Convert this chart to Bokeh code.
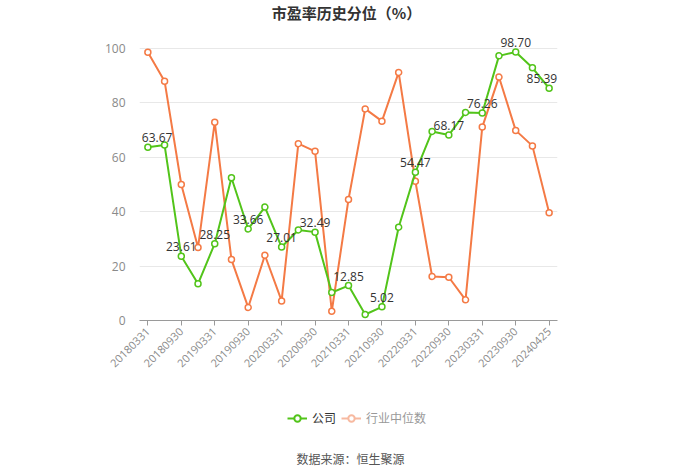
import math
from bokeh.plotting import figure
from bokeh.layouts import column
from bokeh.models import (Range1d, FixedTicker, ColumnDataSource, Label, Legend, LegendItem)
from bokeh.core.properties import value
from bokeh.embed import file_html
from bokeh.resources import INLINE

dates = ["20180331", "20180630", "20180930", "20181231", "20190331", "20190630",
         "20190930", "20191231", "20200331", "20200630", "20200930", "20201231",
         "20210331", "20210630", "20210930", "20211231", "20220331", "20220630",
         "20220930", "20221231", "20230331", "20230630", "20230930", "20231231",
         "20240425"]
company = [63.67, 64.5, 23.61, 13.5, 28.25, 52.5, 33.66, 41.7, 27.01, 33.3,
           32.49, 10.3, 12.85, 2.2, 5.02, 34.3, 54.47, 69.5, 68.17, 76.5,
           76.26, 97.3, 98.70, 92.9, 85.39]
industry = [98.6, 88.0, 50.0, 26.8, 72.9, 22.4, 4.8, 24.0, 7.2, 65.0,
            62.2, 3.4, 44.5, 77.8, 73.3, 91.2, 51.2, 16.2, 15.9, 7.6,
            71.1, 89.5, 69.9, 64.2, 39.6]
y_ticks = [0, 20, 40, 60, 80, 100]
title_text = "市盈率历史分位（%）"
source_text = "数据来源：恒生聚源"
series_names = ["公司", "行业中位数"]

GREEN = "#52c41a"
ORANGE = "#f47a45"
ORANGE_LIGHT = "#f7b9a0"
CJK = "Noto Sans CJK SC"

xs = list(range(len(dates)))

# main plot: frame from canvas top (y=0) to y=320, x from 139 to 557
p = figure(width=700, height=380, output_backend="svg", toolbar_location=None,
           x_range=Range1d(-0.5, len(dates) - 0.5), y_range=Range1d(0, 117.65),
           min_border_left=139, min_border_right=143, min_border_top=0,
           min_border_bottom=60, background_fill_color="white",
           border_fill_color="white")
p.outline_line_color = None

# axes
p.xaxis.ticker = FixedTicker(ticks=[i for i in xs if i % 2 == 0])
p.xaxis.major_label_overrides = {i: d for i, d in enumerate(dates)}
p.xaxis.major_label_orientation = math.pi / 4
p.xaxis.axis_line_color = "#9a9a9a"
p.xaxis.major_tick_line_color = "#9a9a9a"
p.xaxis.major_tick_out = 5
p.xaxis.major_tick_in = 0
p.xaxis.minor_tick_line_color = None
p.xaxis.major_label_text_color = "#8a8a8a"
p.xaxis.major_label_text_font_size = "11px"
p.xaxis.major_label_text_font = "Open Sans"
p.xaxis.major_label_standoff = 4

p.yaxis.ticker = FixedTicker(ticks=y_ticks)
p.yaxis.axis_line_color = None
p.yaxis.major_tick_line_color = None
p.yaxis.minor_tick_line_color = None
p.yaxis.major_label_text_color = "#8a8a8a"
p.yaxis.major_label_text_font_size = "12px"
p.yaxis.major_label_text_font = "Open Sans"
p.yaxis.major_label_standoff = 8

p.xgrid.grid_line_color = None
p.ygrid.grid_line_color = "#e8e8e8"
p.ygrid.grid_line_width = 1

# title (inside the tall frame, above the 100 gridline)
p.add_layout(Label(x=207, y=308, x_units="screen", y_units="screen",
                   text=title_text, text_align="center", text_baseline="middle",
                   text_font=CJK, text_font_size="15px", text_font_style="bold",
                   text_color="#333333"))

src = ColumnDataSource(dict(x=xs, c=company, i=industry))

p.line("x", "i", source=src, line_color=ORANGE, line_width=2)
p.scatter("x", "i", source=src, size=6, marker="circle",
          line_color=ORANGE, fill_color="white", line_width=1.5)
p.line("x", "c", source=src, line_color=GREEN, line_width=2)
p.scatter("x", "c", source=src, size=6, marker="circle",
          line_color=GREEN, fill_color="white", line_width=1.5)

# value labels on every other company point
lab_x = [x for x in xs if x % 2 == 0]
lab_y = [company[x] for x in lab_x]
lab_t = ["%.2f" % company[x] for x in lab_x]
lab_al = ["center"] * len(lab_x)
lab_dx = [0] * len(lab_x)
lab_al[0], lab_dx[0] = "left", -6
lab_al[-1], lab_dx[-1] = "right", 8
lsrc = ColumnDataSource(dict(x=lab_x, y=lab_y, t=lab_t, al=lab_al, dx=lab_dx))
p.text("x", "y", text="t", source=lsrc, text_align="al", x_offset="dx",
       text_baseline="bottom", y_offset=-5, text_font=value("Open Sans"),
       text_font_size="12px", text_color="#333333")

# bottom strip: legend and source (frame 139..557 so data x == canvas x)
p2 = figure(width=700, height=94, output_backend="svg", toolbar_location=None,
            x_range=Range1d(139, 557), y_range=Range1d(0, 94),
            min_border_left=139, min_border_right=143,
            min_border_top=0, min_border_bottom=0,
            background_fill_color="white", border_fill_color="white")
p2.outline_line_color = None
p2.axis.visible = False
p2.grid.visible = False

# legend proxies (kept off-screen; only their styles appear in the legends)
off = dict(x=[-1000, -999], y=[-1000, -1000])
lg1 = p2.line(x=off["x"], y=off["y"], line_color=GREEN, line_width=2)
sg1 = p2.scatter(x=off["x"], y=off["y"], size=8, marker="circle",
                 line_color=GREEN, fill_color="white", line_width=2)
lg2 = p2.line(x=off["x"], y=off["y"], line_color=ORANGE_LIGHT, line_width=2)
sg2 = p2.scatter(x=off["x"], y=off["y"], size=8, marker="circle",
                 line_color=ORANGE_LIGHT, fill_color="white", line_width=2)

common = dict(orientation="horizontal", background_fill_alpha=0,
              border_line_color=None, label_text_font=CJK,
              label_text_font_size="12px", glyph_width=20, glyph_height=16,
              label_height=16, label_standoff=5, padding=0, margin=0)
leg1 = Legend(items=[LegendItem(label=series_names[0], renderers=[lg1, sg1])],
              location=(148, 48), label_text_color="#333333", **common)
leg2 = Legend(items=[LegendItem(label=series_names[1], renderers=[lg2, sg2])],
              location=(202, 48), label_text_color="#999999", **common)
p2.add_layout(leg1)
p2.add_layout(leg2)

p2.add_layout(Label(x=350, y=16, text=source_text, text_align="center",
                    text_baseline="middle", text_font=CJK, text_font_size="12px",
                    text_color="#555555"))

layout = column(p, p2, spacing=0)
open("out.html", "w").write(file_html(layout, INLINE))
